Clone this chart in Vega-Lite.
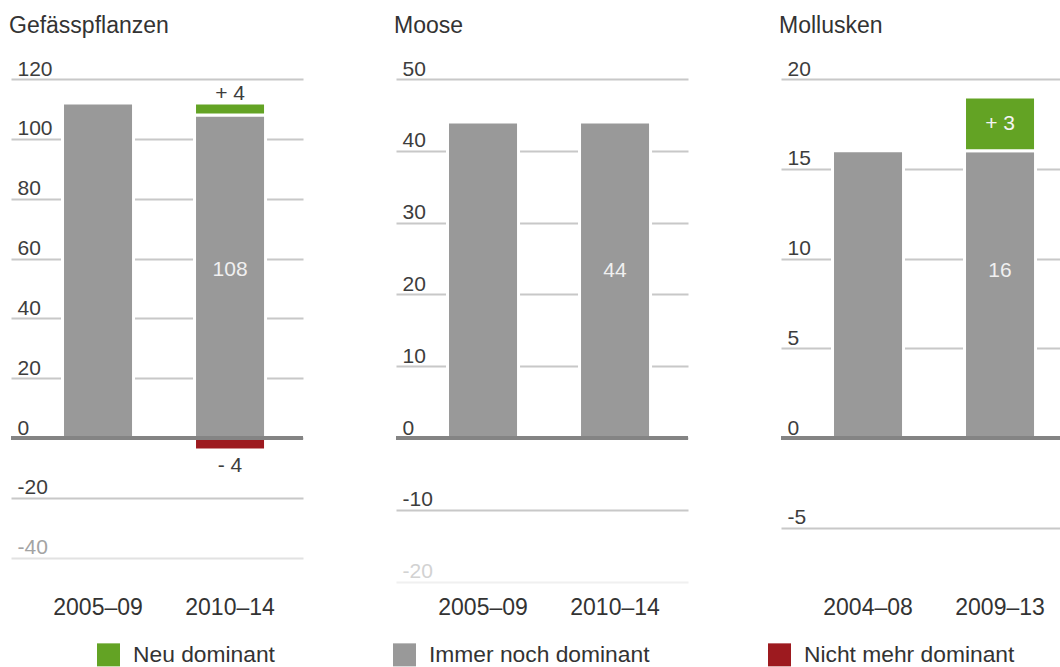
{
  "$schema": "https://vega.github.io/schema/vega-lite/v6.json",
  "background": "white",
  "padding": {"left": 9, "top": 15, "right": 0, "bottom": 0},
  "config": {
    "font": "Liberation Sans",
    "view": {"stroke": null},
    "title": {"fontSize": 23, "fontWeight": "normal", "color": "#333333", "anchor": "start", "offset": 20},
    "axis": {"domain": false, "ticks": false, "tickSize": 0, "title": null, "labelFontSize": 21, "labelColor": "#3d3d3d"},
    "axisX": {"grid": false, "labelAngle": 0, "labelPadding": 12, "labelColor": "#333333", "labelFontSize": 23},
    "axisY": {"grid": true, "gridWidth": 2, "labelAlign": "left", "labelBaseline": "alphabetic", "labelPadding": -6, "labelOffset": -4, "labelExpr": "'' + datum.value"},
    "legend": {
      "orient": "none", "legendX": 86, "legendY": 564, "direction": "horizontal", "title": null,
      "symbolType": "square", "symbolSize": 529, "symbolStrokeWidth": 0,
      "labelFontSize": 22.8, "labelColor": "#333333", "labelOffset": 13, "labelLimit": 500, "columnPadding": 118, "padding": 0
    },
    "concat": {"spacing": 89}
  },
  "resolve": {"scale": {"color": "shared"}},
  "hconcat": [
    {
      "title": "Gefässpflanzen",
      "width": 292,
      "height": 505,
      "data": {"values": [
        {"Periode": "2005–09", "Status": "Immer noch dominant", "Anzahl": 112},
        {"Periode": "2010–14", "Status": "Immer noch dominant", "Anzahl": 108},
        {"Periode": "2010–14", "Status": "Neu dominant", "Anzahl": 4},
        {"Periode": "2010–14", "Status": "Nicht mehr dominant", "Anzahl": -4}
      ]},
      "transform": [
        {"stack": "Anzahl", "groupby": ["Periode"], "sort": [{"field": "Status", "order": "ascending"}], "as": ["unten", "oben"]},
        {"calculate": "(datum.unten + datum.oben) / 2", "as": "mitte"},
        {"calculate": "min(datum.unten, datum.oben)", "as": "tief"},
        {"calculate": "max(datum.unten, datum.oben)", "as": "hoch"}
      ],
      "layer": [
        {
          "mark": {"type": "bar", "stroke": "white", "strokeWidth": 3},
          "encoding": {
            "x": {"field": "Periode", "type": "nominal", "scale": {"paddingInner": 0.462, "paddingOuter": 0.337, "align": 0.579}},
            "y": {"field": "unten", "type": "quantitative",
              "scale": {"domain": [-48.8, 120], "nice": false, "zero": false},
              "axis": {"values": [-40, -20, 0, 20, 40, 60, 80, 100, 120],
                "gridColor": {"condition": {"test": "datum.value == -40", "value": "#e2e2e2"}, "value": "#c8c8c8"},
                "labelColor": {"condition": {"test": "datum.value == -40", "value": "#a3a3a3"}, "value": "#3d3d3d"}}},
            "y2": {"field": "oben"},
            "color": {"field": "Status", "type": "nominal",
              "scale": {"domain": ["Neu dominant", "Immer noch dominant", "Nicht mehr dominant"], "range": ["#63a324", "#999999", "#9d1a1f"]}}
          }
        },
        {
          "data": {"values": [{"Linie": "Null"}]},
          "mark": {"type": "rule", "color": "#848484", "strokeWidth": 4},
          "encoding": {"y": {"datum": 0, "type": "quantitative"}}
        },
        {
          "transform": [{"filter": "datum.Status == 'Immer noch dominant' && datum.Periode == '2010–14'"}],
          "mark": {"type": "text", "fontSize": 21, "color": "#f0f0f0", "baseline": "alphabetic", "dy": 0},
          "encoding": {
            "x": {"field": "Periode", "type": "nominal"},
            "y": {"field": "mitte", "type": "quantitative"},
            "text": {"field": "Anzahl"}
          }
        },
        {
          "transform": [
            {"filter": "datum.Status == 'Neu dominant'"},
            {"calculate": "'+ ' + datum.Anzahl", "as": "Beschriftung"}
          ],
          "mark": {"type": "text", "fontSize": 21, "color": "#3d3d3d", "baseline": "alphabetic", "dy": -3},
          "encoding": {
            "x": {"field": "Periode", "type": "nominal"},
            "y": {"field": "hoch", "type": "quantitative"},
            "text": {"field": "Beschriftung"}
          }
        },
        {
          "transform": [
            {"filter": "datum.Status == 'Nicht mehr dominant'"},
            {"calculate": "'- ' + abs(datum.Anzahl)", "as": "Beschriftung"}
          ],
          "mark": {"type": "text", "fontSize": 21, "color": "#3d3d3d", "baseline": "alphabetic", "dy": 22},
          "encoding": {
            "x": {"field": "Periode", "type": "nominal"},
            "y": {"field": "tief", "type": "quantitative"},
            "text": {"field": "Beschriftung"}
          }
        }
      ]
    },
    {
      "title": "Moose",
      "width": 292,
      "height": 505,
      "data": {"values": [
        {"Periode": "2005–09", "Status": "Immer noch dominant", "Anzahl": 44},
        {"Periode": "2010–14", "Status": "Immer noch dominant", "Anzahl": 44}
      ]},
      "transform": [
        {"stack": "Anzahl", "groupby": ["Periode"], "sort": [{"field": "Status", "order": "ascending"}], "as": ["unten", "oben"]},
        {"calculate": "(datum.unten + datum.oben) / 2", "as": "mitte"}
      ],
      "layer": [
        {
          "mark": {"type": "bar", "stroke": "white", "strokeWidth": 3},
          "encoding": {
            "x": {"field": "Periode", "type": "nominal", "scale": {"paddingInner": 0.462, "paddingOuter": 0.337, "align": 0.579}},
            "y": {"field": "unten", "type": "quantitative",
              "scale": {"domain": [-20.33, 50], "nice": false, "zero": false},
              "axis": {"values": [-20, -10, 0, 10, 20, 30, 40, 50],
                "gridColor": {"condition": {"test": "datum.value == -20", "value": "#f0f0f0"}, "value": "#c8c8c8"},
                "labelColor": {"condition": {"test": "datum.value == -20", "value": "#d2d2d2"}, "value": "#3d3d3d"}}},
            "y2": {"field": "oben"},
            "color": {"field": "Status", "type": "nominal",
              "scale": {"domain": ["Neu dominant", "Immer noch dominant", "Nicht mehr dominant"], "range": ["#63a324", "#999999", "#9d1a1f"]}}
          }
        },
        {
          "data": {"values": [{"Linie": "Null"}]},
          "mark": {"type": "rule", "color": "#848484", "strokeWidth": 4},
          "encoding": {"y": {"datum": 0, "type": "quantitative"}}
        },
        {
          "transform": [{"filter": "datum.Periode == '2010–14'"}],
          "mark": {"type": "text", "fontSize": 21, "color": "#f0f0f0", "baseline": "alphabetic", "dy": -3},
          "encoding": {
            "x": {"field": "Periode", "type": "nominal"},
            "y": {"field": "mitte", "type": "quantitative"},
            "text": {"field": "Anzahl"}
          }
        }
      ]
    },
    {
      "title": "Mollusken",
      "width": 279,
      "height": 505,
      "data": {"values": [
        {"Periode": "2004–08", "Status": "Immer noch dominant", "Anzahl": 16},
        {"Periode": "2009–13", "Status": "Immer noch dominant", "Anzahl": 16},
        {"Periode": "2009–13", "Status": "Neu dominant", "Anzahl": 3}
      ]},
      "transform": [
        {"stack": "Anzahl", "groupby": ["Periode"], "sort": [{"field": "Status", "order": "ascending"}], "as": ["unten", "oben"]},
        {"calculate": "(datum.unten + datum.oben) / 2", "as": "mitte"}
      ],
      "layer": [
        {
          "mark": {"type": "bar", "stroke": "white", "strokeWidth": 3},
          "encoding": {
            "x": {"field": "Periode", "type": "nominal", "scale": {"paddingInner": 0.462, "paddingOuter": 0.2878, "align": 0.678}},
            "y": {"field": "unten", "type": "quantitative",
              "scale": {"domain": [-8.13, 20], "nice": false, "zero": false},
              "axis": {"values": [-5, 0, 5, 10, 15, 20], "gridColor": "#c8c8c8"}},
            "y2": {"field": "oben"},
            "color": {"field": "Status", "type": "nominal",
              "scale": {"domain": ["Neu dominant", "Immer noch dominant", "Nicht mehr dominant"], "range": ["#63a324", "#999999", "#9d1a1f"]}}
          }
        },
        {
          "data": {"values": [{"Linie": "Null"}]},
          "mark": {"type": "rule", "color": "#848484", "strokeWidth": 4},
          "encoding": {"y": {"datum": 0, "type": "quantitative"}}
        },
        {
          "transform": [{"filter": "datum.Status == 'Immer noch dominant' && datum.Periode == '2009–13'"}],
          "mark": {"type": "text", "fontSize": 21, "color": "#f0f0f0", "baseline": "alphabetic", "dy": -17},
          "encoding": {
            "x": {"field": "Periode", "type": "nominal"},
            "y": {"field": "mitte", "type": "quantitative"},
            "text": {"field": "Anzahl"}
          }
        },
        {
          "transform": [
            {"filter": "datum.Status == 'Neu dominant'"},
            {"calculate": "'+ ' + datum.Anzahl", "as": "Beschriftung"}
          ],
          "mark": {"type": "text", "fontSize": 21, "color": "#f4f4f4", "baseline": "alphabetic", "dy": 6},
          "encoding": {
            "x": {"field": "Periode", "type": "nominal"},
            "y": {"field": "mitte", "type": "quantitative"},
            "text": {"field": "Beschriftung"}
          }
        }
      ]
    }
  ]
}
